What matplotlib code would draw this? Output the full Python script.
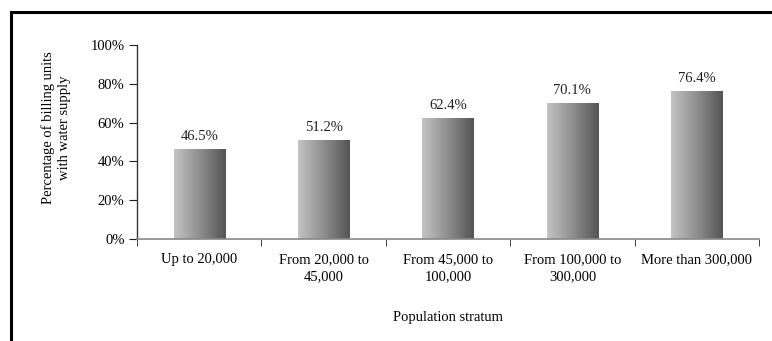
import numpy as np
import matplotlib.pyplot as plt
from matplotlib.patches import Rectangle
from matplotlib.colors import LinearSegmentedColormap

strata = ['Up to 20,000', 'From 20,000 to\n45,000', 'From 45,000 to\n100,000',
          'From 100,000 to\n300,000', 'More than 300,000']
share = [46.5, 51.2, 62.4, 70.1, 76.4]

plt.rcParams['font.family'] = ['Liberation Serif', 'DejaVu Serif']
plt.rcParams['font.size'] = 10.5

W, H = 772, 341
fig = plt.figure(figsize=(W / 100, H / 100), dpi=100)
ax = fig.add_axes([137 / W, 1 - 239 / H, (759 - 137) / W, (239 - 45) / H])

x = np.arange(len(share))
bars = ax.bar(x, share, width=0.41, color='none', edgecolor='none')

# horizontal grey shading inside each bar
shade = LinearSegmentedColormap.from_list('shade', ['#c4c4c4', '#8e8e8e', '#545454'])
grad = np.linspace(0, 1, 256).reshape(1, -1)
for b, v in zip(bars, share):
    x0 = b.get_x()
    im = ax.imshow(grad, cmap=shade, aspect='auto', interpolation='bicubic',
                   extent=(x0, x0 + b.get_width(), 0, v), zorder=2)
    im.set_clip_path(b)
    ax.text(x0 + b.get_width() / 2, v + 3, f'{v:.1f}%', ha='center', va='bottom',
            color='#222222')

ax.set_xlim(-0.5, len(share) - 0.5)
ax.set_ylim(0, 100)
ax.set_yticks(range(0, 101, 20))
ax.set_yticklabels([f'{t}%' for t in range(0, 101, 20)])
ax.set_xticks(x)
ax.set_xticklabels(strata, linespacing=1.45)
ax.tick_params(axis='x', length=0, pad=10)
ax.set_xticks(np.arange(-0.5, len(share)), minor=True)
ax.tick_params(axis='x', which='minor', length=5, direction='out', color='#222222')
ax.tick_params(axis='y', length=6, direction='out', color='#222222', pad=3)

for s in ('top', 'right'):
    ax.spines[s].set_visible(False)
ax.spines['left'].set_color('#333333')
ax.spines['bottom'].set_color('#888888')
ax.spines['left'].set_linewidth(1.0)
ax.spines['bottom'].set_linewidth(1.2)

fig.text(56 / W, 1 - 128 / H, 'Percentage of billing units\nwith water supply',
         rotation=90, ha='center', va='center', linespacing=1.35)
fig.text(448 / W, 1 - 317 / H, 'Population stratum', ha='center', va='center')

# outer frame running off the right and bottom edges
fig.add_artist(Rectangle((10.5 / W, -0.1), 1.2, 1.1 - 11.5 / H,
                         transform=fig.transFigure, fill=False,
                         edgecolor='black', linewidth=2.2))

fig.savefig('out.png', dpi=100)
